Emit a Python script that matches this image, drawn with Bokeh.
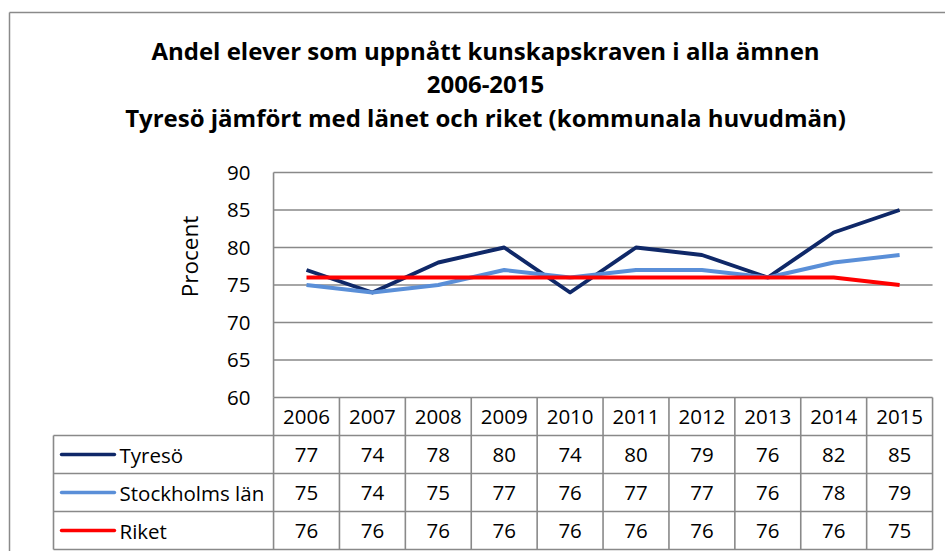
import math
from bokeh.plotting import figure
from bokeh.models import Range1d
from bokeh.core.properties import value
from bokeh.embed import file_html
from bokeh.resources import INLINE

# ---------------- data ----------------
years = [2006, 2007, 2008, 2009, 2010, 2011, 2012, 2013, 2014, 2015]
tyreso = [77, 74, 78, 80, 74, 80, 79, 76, 82, 85]
stockholm = [75, 74, 75, 77, 76, 77, 77, 76, 78, 79]
riket = [76, 76, 76, 76, 76, 76, 76, 76, 76, 75]
series_names = ["Tyresö", "Stockholms län", "Riket"]
series_values = [tyreso, stockholm, riket]
series_colors = ["#0F2868", "#5A8FD8", "#FF0000"]
y_ticks = [60, 65, 70, 75, 80, 85, 90]
y_label = "Procent"
title_lines = [
    "Andel elever som uppnått kunskapskraven i alla ämnen",
    "2006-2015",
    "Tyresö jämfört med länet och riket (kommunala huvudmän)",
]

# ---------------- layout (page pixels) ----------------
W, H = 945, 551
PAGE_X0, PAGE_Y0 = 0, 0
COL_W = 65.9
X_FIRST = 306.0
PLOT_TOP, PLOT_BOTTOM = 172.0, 397.0
Y_MIN, Y_MAX = y_ticks[0], y_ticks[-1]
PX_PER_UNIT = (PLOT_BOTTOM - PLOT_TOP) / (Y_MAX - Y_MIN)
ROW_PX = 38.0


def dx(px):
    return years[0] + (px - X_FIRST) / COL_W


def dy(py):
    return Y_MAX - (py - PLOT_TOP) / PX_PER_UNIT


FONT = value("Open Sans")
GRID = "#898989"
TXT = "#000000"

p = figure(width=W, height=H, output_backend="svg", toolbar_location=None,
           x_axis_type=None, y_axis_type=None,
           x_range=Range1d(dx(PAGE_X0), dx(PAGE_X0 + W)),
           y_range=Range1d(dy(PAGE_Y0 + H), dy(PAGE_Y0)),
           min_border=0, min_border_left=0, min_border_right=0,
           min_border_top=0, min_border_bottom=0)
p.outline_line_color = None
p.grid.visible = False
p.background_fill_color = "white"
p.border_fill_color = "white"

x_left = years[0] - 0.5
x_right = years[-1] + 0.5
rh = ROW_PX / PX_PER_UNIT
n_rows = len(series_names) + 1
table_bottom = Y_MIN - n_rows * rh
label_left = dx(53)

# chart border (left + top, rest is off-page)
p.segment(x0=[dx(9)], y0=[dy(12)], x1=[dx(PAGE_X0 + W)], y1=[dy(12)],
          line_color="#8A8A8A", line_width=1.5)
p.segment(x0=[dx(9)], y0=[dy(12)], x1=[dx(9)], y1=[dy(PAGE_Y0 + H)],
          line_color="#8A8A8A", line_width=1.5)

# gridlines
p.segment(x0=[x_left] * len(y_ticks), y0=y_ticks, x1=[x_right] * len(y_ticks), y1=y_ticks,
          line_color=GRID, line_width=1.6)

# table horizontal lines
h_ys = [Y_MIN - k * rh for k in range(1, n_rows + 1)]
p.segment(x0=[label_left] * len(h_ys), y0=h_ys, x1=[x_right] * len(h_ys), y1=h_ys,
          line_color=GRID, line_width=1.6)
# plot-area left border + column boundaries
bounds = [y - 0.5 for y in years] + [years[-1] + 0.5]
p.segment(x0=[x_left], y0=[Y_MAX], x1=[x_left], y1=[Y_MIN], line_color=GRID, line_width=1.6)
p.segment(x0=bounds, y0=[Y_MIN] * len(bounds), x1=bounds, y1=[table_bottom] * len(bounds),
          line_color=GRID, line_width=1.6)
p.segment(x0=[label_left], y0=[Y_MIN - rh], x1=[label_left], y1=[table_bottom],
          line_color=GRID, line_width=1.6)

# series lines
for vals, col in zip(series_values, series_colors):
    p.line(years, vals, line_color=col, line_width=3.9, line_join="round")

# y tick labels
p.text(x=[dx(250)] * len(y_ticks), y=y_ticks, text=[str(t) for t in y_ticks],
       text_font=FONT, text_font_size="20.5px", text_color=TXT,
       text_align="right", text_baseline="middle")

# y axis title
p.text(x=[dx(189)], y=[dy(256)], text=[y_label], angle=math.pi / 2,
       text_font=FONT, text_font_size="22.5px", text_color=TXT,
       text_align="center", text_baseline="middle")

# title
title_y = [dy(50), dy(84), dy(116.5)]
p.text(x=[dx(485)] * 3, y=title_y, text=title_lines,
       text_font=FONT, text_font_size="24px", text_font_style="bold",
       text_color=TXT, text_align="center", text_baseline="middle")

# table header
hdr_y = Y_MIN - rh / 2
p.text(x=years, y=[hdr_y] * len(years), text=[str(y) for y in years],
       text_font=FONT, text_font_size="20.5px", text_color=TXT,
       text_align="center", text_baseline="middle")

# table rows
for i, (name, vals, col) in enumerate(zip(series_names, series_values, series_colors)):
    ry = Y_MIN - rh * (i + 1.5)
    p.text(x=years, y=[ry] * len(years), text=[str(v) for v in vals],
           text_font=FONT, text_font_size="20.5px", text_color=TXT,
           text_align="center", text_baseline="middle")
    p.segment(x0=[dx(61)], y0=[ry], x1=[dx(114)], y1=[ry],
              line_color=col, line_width=3.4, line_cap="round")
    p.text(x=[dx(119)], y=[ry], text=[name],
           text_font=FONT, text_font_size="20.5px", text_color=TXT,
           text_align="left", text_baseline="middle")

open("out.html", "w").write(file_html(p, INLINE))
